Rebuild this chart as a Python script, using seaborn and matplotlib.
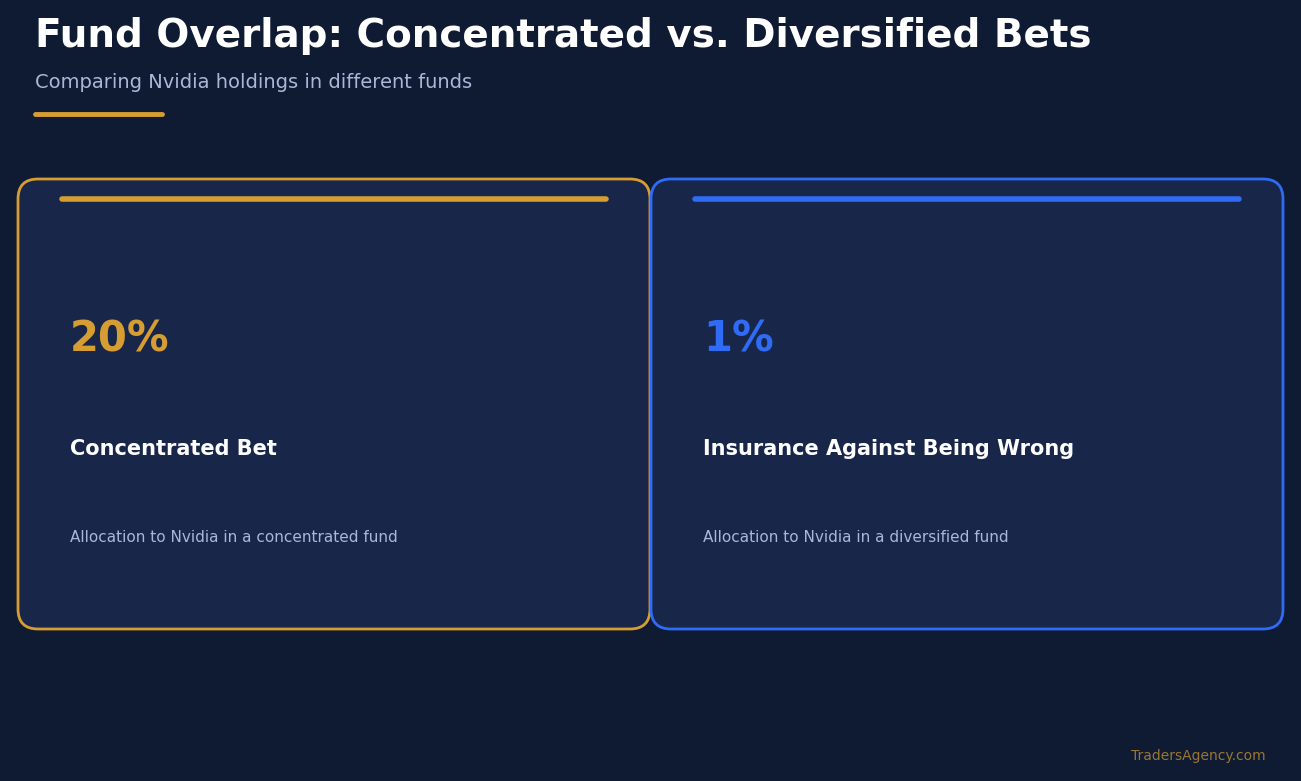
import matplotlib
matplotlib.use("Agg")
import matplotlib.pyplot as plt
from matplotlib.patches import FancyBboxPatch
import seaborn as sns

# === DATA ===
title = "Fund Overlap: Concentrated vs. Diversified Bets"
subtitle = "Comparing Nvidia holdings in different funds"
fund_values = [20, 1]
fund_headlines = ["Concentrated Bet", "Insurance Against Being Wrong"]
fund_notes = [
    "Allocation to Nvidia in a concentrated fund",
    "Allocation to Nvidia in a diversified fund",
]
footer = "TradersAgency.com"

# === STYLE ===
BG = "#0f1a33"
CARD = "#18264a"
GOLD = "#d69e32"
BLUE = "#2f6bf5"
SUB = "#a9b8d8"
accents = [GOLD, BLUE]

sns.set_theme(style="dark", rc={"figure.facecolor": BG, "axes.facecolor": BG})
plt.rcParams["font.family"] = ["DejaVu Sans"]

W, H = 1301, 781
fig = plt.figure(figsize=(W / 100, H / 100), dpi=100)
ax = fig.add_axes([0, 0, 1, 1])
ax.set_xlim(0, W)
ax.set_ylim(H, 0)
ax.axis("off")

# header
ax.text(35, 36, title, color="white", fontsize=28, fontweight="bold", va="center", ha="left")
ax.text(35, 82, subtitle, color=SUB, fontsize=14, va="center", ha="left")
ax.plot([35, 162], [114, 114], color=GOLD, lw=3.5, solid_capstyle="round")

# cards
card_w, card_h, card_y = 632, 450, 179
for i, (val, head, note) in enumerate(zip(fund_values, fund_headlines, fund_notes)):
    x0 = 18 + i * 633
    c = accents[i]
    box = FancyBboxPatch((x0, card_y), card_w, card_h,
                         boxstyle="round,pad=0,rounding_size=20",
                         facecolor=CARD, edgecolor=c, lw=2)
    ax.add_patch(box)
    ax.plot([x0 + 44, x0 + 588], [199, 199], color=c, lw=4, solid_capstyle="round")
    ax.text(x0 + 52, 339, f"{val}%", color=c, fontsize=30, fontweight="bold", va="center", ha="left")
    ax.text(x0 + 52, 449, head, color="white", fontsize=15, fontweight="bold", va="center", ha="left")
    ax.text(x0 + 52, 537, note, color=SUB, fontsize=11, va="center", ha="left")

ax.text(1266, 756, footer, color=GOLD, alpha=0.7, fontsize=10, va="center", ha="right")

fig.savefig("out.png", dpi=100, facecolor=BG)
